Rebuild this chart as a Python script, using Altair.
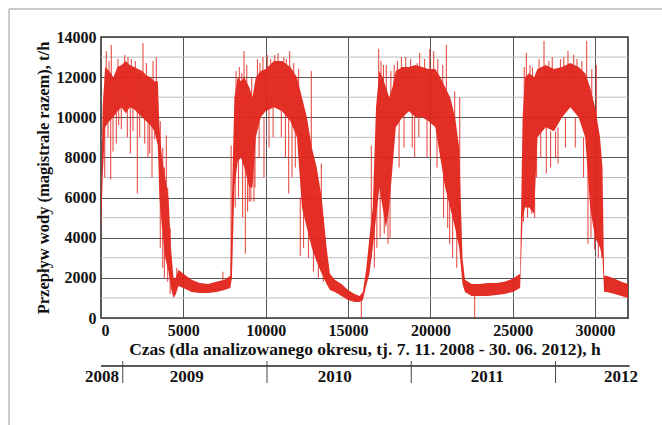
import altair as alt
import pandas as pd

# Hourly water flow (both mains combined), envelope of the hourly record, t/h
band_h = [0, 100, 250, 500, 750, 1000, 1250, 1500, 1750, 2000, 2250, 2500, 2750, 3000, 3250, 3450,
          3550, 3700, 3900, 4100, 4250, 4400, 4550, 4700, 5000, 5500, 6000, 6500, 7000, 7500, 7850,
          7950, 8100, 8300, 8500, 8700, 9000, 9200, 9400, 9700, 10000, 10500, 11000, 11500, 11900,
          12200, 12500, 12800, 13100, 13400, 13700, 13900, 14200, 14600, 15000, 15400, 15700, 15900,
          16100, 16300, 16500, 16700, 16900, 17100, 17300, 17500, 17700, 17900, 18300, 18700, 19100,
          19500, 19900, 20300, 20600, 20900, 21200, 21500, 21750, 21950, 22100, 22500, 23000, 23500,
          24000, 24500, 25000, 25450, 25600, 25750, 26000, 26300, 26500, 27000, 27500, 28000, 28500,
          29000, 29400, 29700, 30000, 30300, 30450, 30550, 30700, 31200, 31600, 32000]
band_lo = [4200, 7000, 9500, 9800, 10000, 10300, 10500, 10200, 10500, 10400, 10200, 10000, 9800, 9600, 9300, 8600,
           6000, 4500, 3000, 2300, 1500, 1000, 1200, 1600, 1500, 1300, 1250, 1250, 1300, 1400, 1500,
           2000, 6500, 7800, 8000, 7500, 6500, 6500, 9000, 10000, 10300, 10500, 10300, 9800, 9000,
           5500, 4500, 3500, 2800, 2200, 1700, 1400, 1300, 1100, 900, 800, 800, 900,
           1600, 2200, 3500, 5000, 6500, 5500, 4500, 5500, 7500, 9500, 10000, 10300, 10000,
           10000, 9800, 9500, 8000, 6500, 5500, 4500, 3500, 1700, 1300, 1100, 1100, 1100,
           1150, 1200, 1300, 1500, 5000, 5500, 5500, 5200, 9000, 9500, 9300, 10000, 10500,
           10000, 9000, 5500, 4000, 3500, 3000, 1300, 1300, 1200, 1100, 1000]
band_hi = [5500, 10500, 12500, 12300, 12000, 12500, 12600, 12800, 12600, 12500, 12400, 12300, 12100, 12000, 11800, 11800,
           9500, 8000, 7000, 6000, 3500, 2000, 2000, 2400, 2200, 1900, 1750, 1700, 1800, 1900, 2100,
           6000, 11000, 12000, 11800, 12000, 11500, 11000, 12000, 12300, 12400, 12800, 12800, 12500, 12000,
           11000, 10000, 8500, 7500, 6000, 3500, 2200, 1900, 1700, 1400, 1200, 1100, 1300,
           2400, 4000, 5500, 10500, 12300, 12000, 11500, 11000, 11500, 12300, 12500, 12500, 12600,
           12500, 12400, 12400, 12000, 11500, 11000, 10000, 8500, 3000, 1900, 1700, 1700, 1750,
           1750, 1800, 1950, 2200, 10000, 12000, 12200, 12000, 12400, 12600, 12400, 12500, 12700,
           12500, 12200, 11500, 10500, 9000, 7500, 2100, 2100, 1950, 1800, 1700]

# Single-hour peaks and drops standing out of the envelope: hour, from, to
spike_h = [
    # winter 2008/09
    224, 324, 425, 486, 587, 627, 729, 931, 1032, 1073, 1235, 1437, 1600, 1640, 1781, 1842, 1943,
    2085, 2206, 2348, 2550, 2652, 2752, 2854, 2955, 3097, 3158, 3260, 3360,
    3600, 3750, 3850, 3967, 4050, 4200, 4600, 7400, 7900,
    # winter 2009/10
    8150, 8200, 8350, 8400, 8550, 8600, 8683, 8764, 8850, 8900, 9000, 9100, 9150, 9290, 9350,
    9500, 9600, 9650, 9837, 9897, 10100, 10200, 10300, 10450, 10550, 10748, 10950, 11100, 11200,
    11250, 11396, 11456, 11600, 11700, 11800, 12000, 12100, 12300, 12600, 12770, 12900, 13200,
    13378, 13500, 15808,
    # winter 2010/11
    16415, 16600, 16750, 16860, 16950, 17000, 17150, 17200, 17325, 17427, 17550, 17600, 17800,
    18000, 18100, 18240, 18400, 18500, 18800, 18900, 19046, 19200, 19300, 19350, 19650, 19795,
    19960, 20000, 20200, 20400, 20450, 20750, 20800, 20970, 21050, 21170, 21350, 21475, 21600,
    21780, 22690,
    # winter 2011/12
    25650, 25700, 25827, 25900, 26050, 26150, 26200, 26330, 26450, 26600, 26700, 26900, 27040,
    27200, 27300, 27400, 27600, 27750, 27900, 28100, 28200, 28355, 28700, 28800, 28900, 29200,
    29300, 29490, 29570, 29750, 29800, 29975, 30080, 30200, 30400]
spike_lo = [
    7000, 11000, 9000, 11000, 6900, 11000, 8300, 8700, 11000, 9600, 9400, 11000, 9000, 11000, 8200,
    11000, 9300, 11000, 6200, 9000, 11000, 8700, 11000, 8000, 8200, 7000, 10500, 8900, 10000,
    3500, 2500, 2000, 5000, 1800, 1200, 1500, 1400, 2000,
    5500, 10000, 6000, 10000, 9000, 5000, 10000, 3200, 9000, 5300, 5800, 5800, 9000, 5800, 6500,
    10500, 8000, 11000, 11000, 7000, 11000, 8500, 11000, 9000, 11000, 11000, 9000, 11000, 8000,
    11000, 6200, 11000, 7000, 10500, 7500, 10000, 3100, 3500, 3000, 7000, 2300, 2000,
    4000, 1800, 0,
    3000, 2500, 3500, 10000, 4000, 10000, 9000, 4200, 10000, 3700, 4000, 9000, 10000,
    11000, 7500, 11000, 8500, 11000, 11000, 8500, 8000, 11000, 9000, 11000, 11000, 8000,
    11000, 8000, 10500, 7500, 10500, 9000, 5000, 9000, 4500, 3700, 3000, 8000, 2500,
    6000, 0,
    4800, 8000, 9000, 5000, 10000, 5200, 10000, 5000, 7000, 11000, 8000, 11000, 7200,
    11000, 7500, 11000, 8000, 7700, 11000, 11000, 8500, 11000, 11000, 8500, 11000, 10500,
    7000, 10000, 3700, 4000, 9000, 3400, 8000, 3000, 3000]
spike_hi = [
    10000, 13300, 11000, 12800, 10000, 13600, 10500, 10500, 12900, 11000, 11000, 13100, 11000, 13000, 10500,
    12900, 11000, 12800, 10500, 11000, 13700, 11000, 12700, 10000, 10000, 9800, 12800, 10000, 13000,
    9800, 8500, 7500, 9100, 6500, 4500, 2500, 2300, 8600,
    9000, 12300, 9000, 12500, 12200, 8500, 13300, 8000, 12600, 8000, 7000, 8000, 12000, 8000, 9500,
    12900, 10500, 12700, 13000, 10000, 13100, 10500, 12900, 10500, 13100, 13200, 10500, 13000, 10500,
    12900, 10000, 13300, 10000, 12700, 9500, 12400, 6000, 9000, 8000, 12300, 7800, 6500,
    7700, 5000, 900,
    8600, 5000, 7000, 13400, 8000, 12800, 12600, 7500, 12600, 6000, 7000, 12300, 12600,
    12800, 10500, 13000, 10500, 13000, 12900, 10500, 10000, 12700, 10500, 13200, 12900, 10000,
    13400, 10000, 13300, 10000, 12900, 12600, 8000, 13600, 7000, 6000, 6000, 11300, 5000,
    11000, 1200,
    7000, 12500, 13200, 8000, 12600, 7500, 12500, 6000, 9500, 12900, 9500, 13800, 9500,
    12800, 9300, 13000, 9300, 9500, 12900, 13000, 10000, 13300, 13100, 10000, 12900, 12800,
    9000, 13800, 8000, 6000, 12400, 5000, 12600, 5000, 4500]

minor_y = [1000, 3000, 5000, 7000, 9000, 11000, 13000]
x_ticks = [0, 5000, 10000, 15000, 20000, 25000, 30000]
y_ticks = [0, 2000, 4000, 6000, 8000, 10000, 12000, 14000]

# Calendar scale under the hour axis (hours counted from 7.11.2008)
start = pd.Timestamp("2008-11-07")
year_starts = [2009, 2010, 2011, 2012]
year_tick_h = [(pd.Timestamp(f"{y}-01-01") - start) / pd.Timedelta(hours=1) for y in year_starts]
year_labels = ["2008", "2009", "2010", "2011", "2012"]
year_label_h = [60, 5200, 14200, 23450, 31580]

RED = "#e2231a"
FONT = "Liberation Serif"

band = pd.DataFrame({"h": band_h, "lo": band_lo, "hi": band_hi})
spikes = pd.DataFrame({"h": spike_h, "lo": spike_lo, "hi": spike_hi})

xs = alt.Scale(domain=[0, 32000], nice=False)
ys = alt.Scale(domain=[0, 14000], nice=False)

x_axis = alt.Axis(values=x_ticks, format="d", grid=True, gridColor="#555", gridWidth=1,
                  ticks=False, domain=False, labelPadding=4,
                  title="Czas (dla analizowanego okresu, tj. 7. 11. 2008 - 30. 06. 2012), h",
                  titleFontSize=17.5, titlePadding=2)
y_axis = alt.Axis(values=y_ticks, format="d", grid=True, gridColor="#555", gridWidth=1,
                  ticks=False, domain=False, labelPadding=5,
                  title="Przepływ wody (magistrale razem), t/h", titleFontSize=16.5, titlePadding=5)

minor = alt.Chart(pd.DataFrame({"y": minor_y})).mark_rule(color="#bbb", strokeWidth=1).encode(
    y=alt.Y("y:Q", scale=ys))

area = alt.Chart(band).mark_area(color=RED, opacity=0.95).encode(
    x=alt.X("h:Q", scale=xs, axis=x_axis),
    y=alt.Y("lo:Q", scale=ys, axis=y_axis),
    y2="hi:Q")

spike = alt.Chart(spikes).mark_rule(color="#e4302a", strokeWidth=1.1, opacity=0.85).encode(
    x=alt.X("h:Q", scale=xs), y=alt.Y("lo:Q", scale=ys), y2="hi:Q")

# calendar strip below the chart
cal_line = alt.Chart(pd.DataFrame({"a": [0], "b": [32100]})).mark_rule(
    color="#222", strokeWidth=1.5, clip=False).encode(
    x=alt.X("a:Q", scale=xs), x2="b:Q", y=alt.value(329))
cal_ticks = alt.Chart(pd.DataFrame({"h": year_tick_h})).mark_rule(
    color="#444", strokeWidth=1, clip=False).encode(
    x=alt.X("h:Q", scale=xs), y=alt.value(324), y2=alt.value(346))
cal_text = alt.Chart(pd.DataFrame({"h": year_label_h, "t": year_labels})).mark_text(
    font=FONT, fontWeight="bold", fontSize=17, color="#111", baseline="middle",
    align="center", clip=False).encode(
    x=alt.X("h:Q", scale=xs), y=alt.value(340), text="t:N")

# page frame lines
frame_top = alt.Chart(pd.DataFrame({"v": [0]})).mark_rule(color="#999", strokeWidth=1, clip=False).encode(
    x=alt.value(-92), x2=alt.value(561), y=alt.value(-28))
frame_left = alt.Chart(pd.DataFrame({"v": [0]})).mark_rule(color="#999", strokeWidth=1, clip=False).encode(
    x=alt.value(-92), y=alt.value(-28), y2=alt.value(388))

chart = alt.layer(minor, area, spike, cal_line, cal_ticks, cal_text, frame_top, frame_left).properties(
    width=527, height=281,
    autosize=alt.AutoSizeParams(type="none"),
    padding={"left": 101, "top": 37, "right": 34, "bottom": 107},
    background="white",
).configure_view(stroke="#333", strokeWidth=1.6).configure_axis(
    labelFont=FONT, labelFontWeight="bold", labelFontSize=16, labelColor="#111",
    titleFont=FONT, titleFontWeight="bold", titleColor="#111",
)

chart.save("out.html", embed_options={"renderer": "svg", "actions": False})
